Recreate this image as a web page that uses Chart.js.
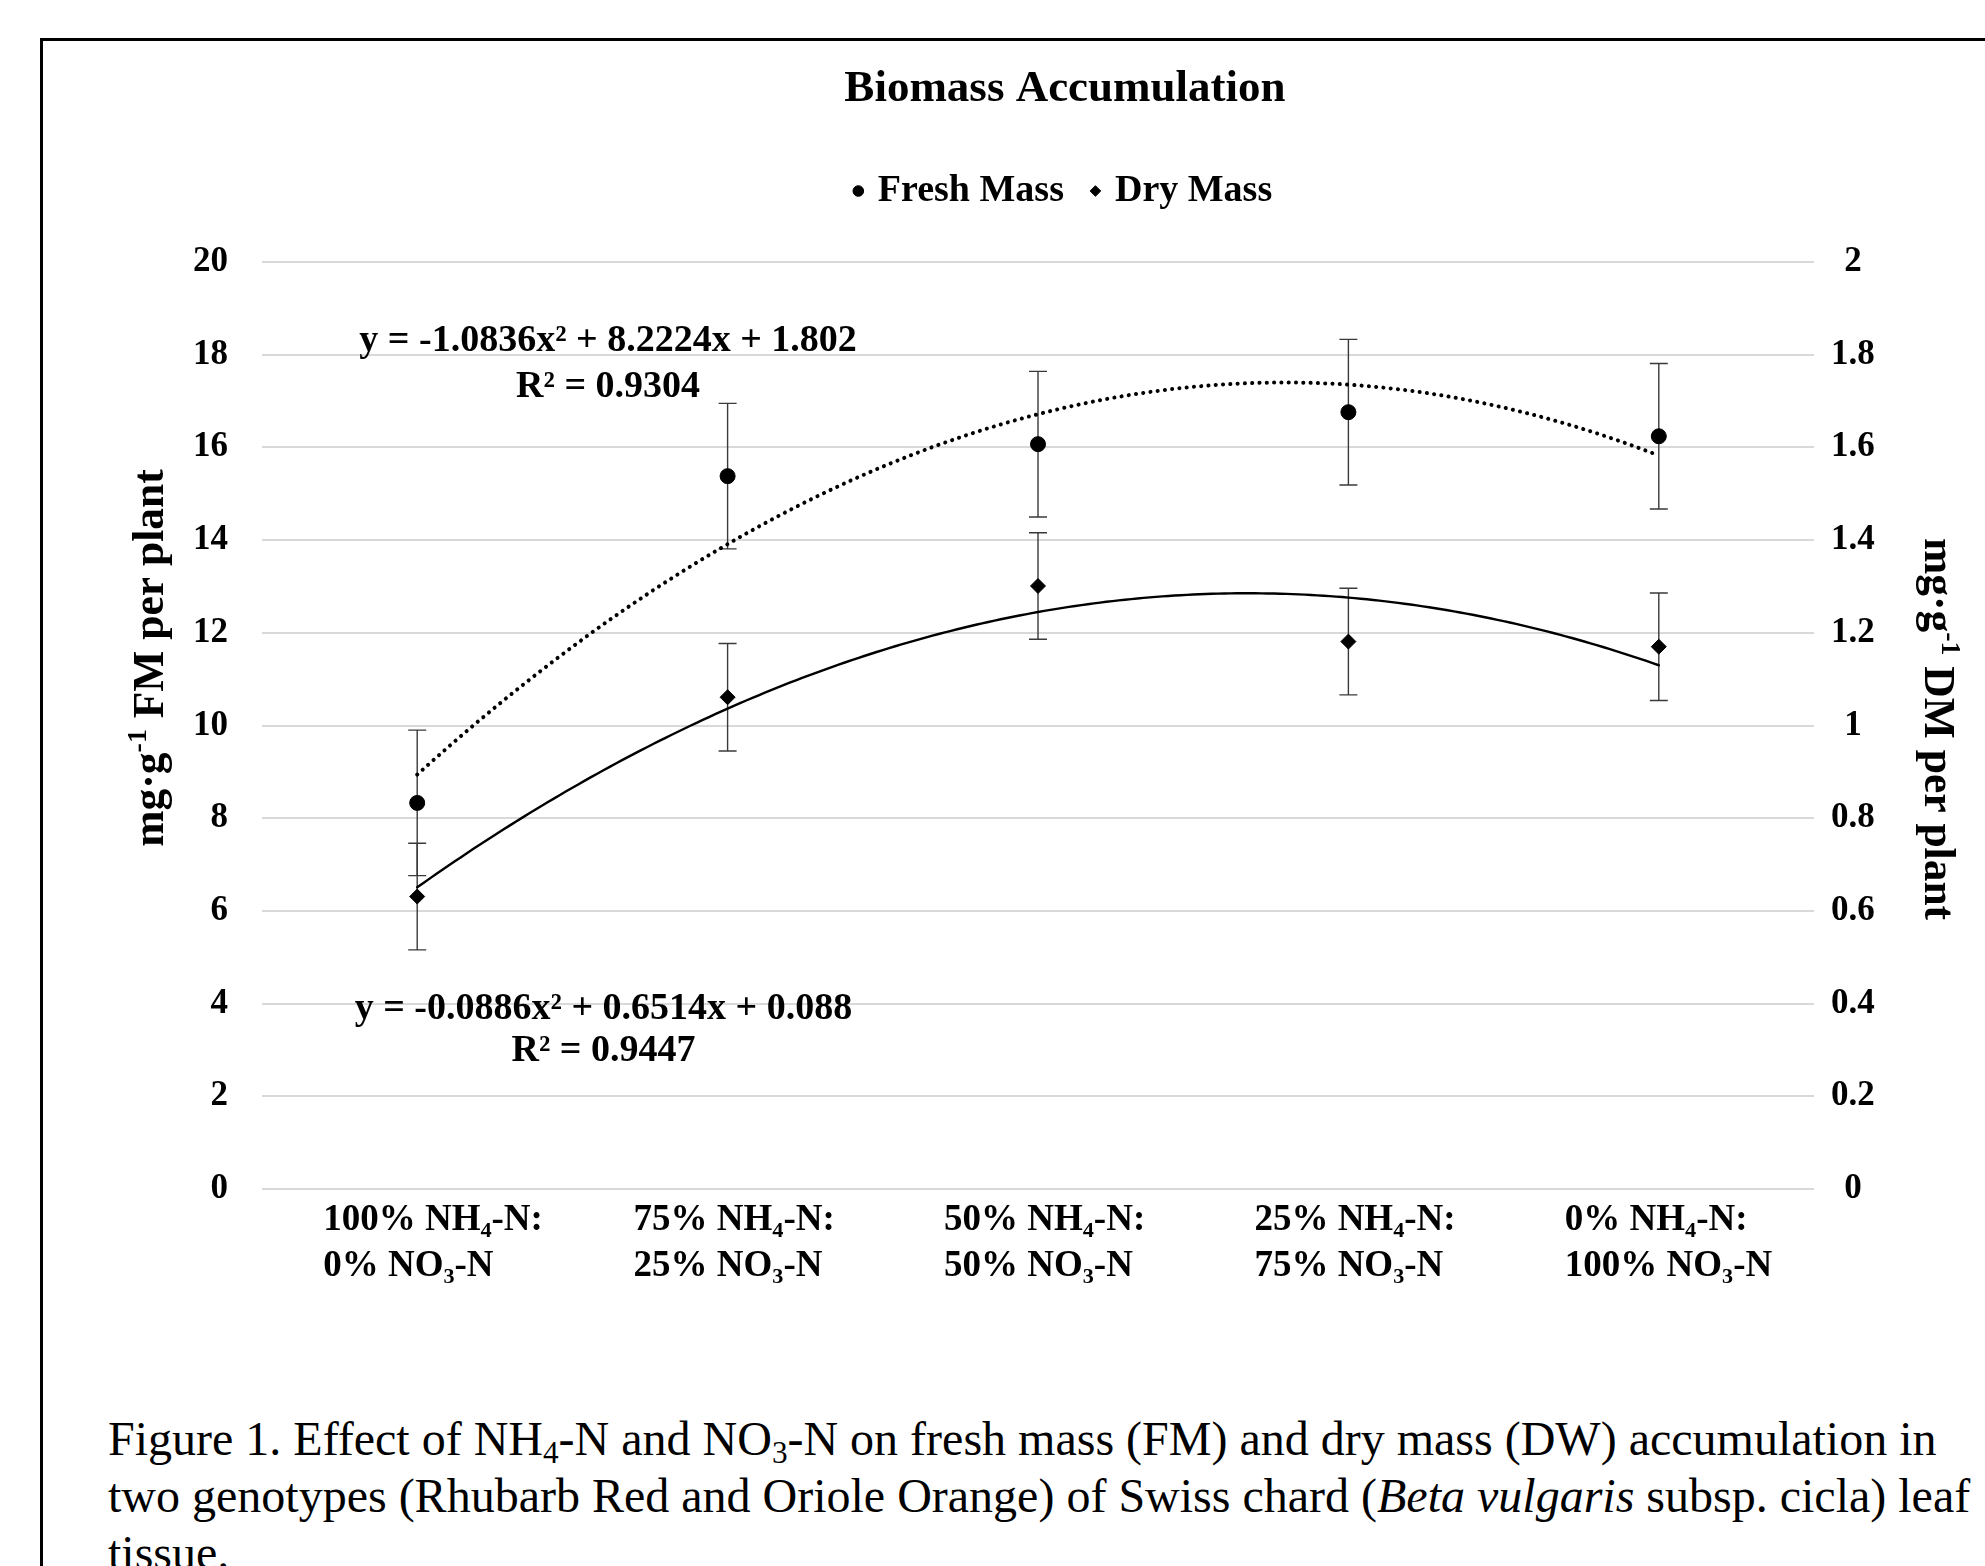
<!DOCTYPE html>
<html>
<head>
<meta charset="utf-8">
<title>Biomass Accumulation</title>
<script src="https://cdn.jsdelivr.net/npm/chart.js@4.4.1/dist/chart.umd.min.js"></script>
<style>
  html, body { margin: 0; padding: 0; background: #fff; width: 1985px; height: 1566px; overflow: hidden; }
  #frame { position: absolute; left: 40px; top: 38px; width: 3000px; height: 3000px;
           border-top: 3px solid #000; border-left: 3px solid #000; }
  #chart { position: absolute; left: 0; top: 0; }
  #caption { position: absolute; left: 108px; top: 1410px; color: #000; white-space: nowrap;
             font-family: "Liberation Serif", "Times New Roman", serif; font-size: 48px; line-height: 57px; }
  #caption sub { font-size: 0.65em; line-height: 0; vertical-align: -0.25em; }
</style>
</head>
<body>
<div id="frame"></div>
<canvas id="chart" width="2130" height="1330"></canvas>
<div id="caption">Figure 1. Effect of NH<sub>4</sub>-N and NO<sub>3</sub>-N on fresh mass (FM) and dry mass (DW) accumulation in<br>two genotypes (Rhubarb Red and Oriole Orange) of Swiss chard (<i>Beta vulgaris</i> subsp. cicla) leaf<br>tissue.</div>
<script>
const SERIF = '"Liberation Serif", "Times New Roman", "DejaVu Serif", serif';

// data
const categories = [
  ['100% NH₄-N:', '0% NO₃-N'],
  ['75% NH₄-N:', '25% NO₃-N'],
  ['50% NH₄-N:', '50% NO₃-N'],
  ['25% NH₄-N:', '75% NO₃-N'],
  ['0% NH₄-N:', '100% NO₃-N']
];
const freshMass = [8.33, 15.38, 16.07, 16.76, 16.24];
const freshErr = [1.57, 1.57, 1.57, 1.57, 1.57];
const dryMass = [0.631, 1.061, 1.301, 1.181, 1.170];
const dryErr = [0.115, 0.116, 0.115, 0.115, 0.116];

// polynomial trendlines printed on the chart, y = a*x^2 + b*x + c with x = 1..5
const freshFit = [-1.0836, 8.2224, 1.802];
const dryFit = [-0.0886, 0.6514, 0.088];
const freshR2 = '0.9304';
const dryR2 = '0.9447';

const freshAxis = [0, 20, 2];   // min, max, step
const dryAxis = [0, 2, 0.2];

function fitLabel(c) {
  const sign = v => (v < 0 ? '- ' : '+ ') + Math.abs(v);
  return 'y = ' + c[0] + 'x² ' + sign(c[1]) + 'x ' + sign(c[2]);
}

const errorBars = {
  id: 'errorBars',
  beforeDatasetsDraw(chart) {
    const ctx = chart.ctx;
    const x = chart.scales.x;
    ctx.save();
    ctx.strokeStyle = '#3a3a3a';
    ctx.lineWidth = 1.4;
    [[freshMass, freshErr, 'y'], [dryMass, dryErr, 'y1']].forEach(([vals, errs, axis]) => {
      const y = chart.scales[axis];
      vals.forEach((v, i) => {
        const px = x.getPixelForValue(i);
        const top = y.getPixelForValue(v + errs[i]);
        const bot = y.getPixelForValue(v - errs[i]);
        ctx.beginPath();
        ctx.moveTo(px, top); ctx.lineTo(px, bot);
        ctx.moveTo(px - 9, top); ctx.lineTo(px + 9, top);
        ctx.moveTo(px - 9, bot); ctx.lineTo(px + 9, bot);
        ctx.stroke();
      });
    });
    ctx.restore();
  }
};

const trendlines = {
  id: 'trendlines',
  beforeDatasetsDraw(chart) {
    const ctx = chart.ctx;
    const x = chart.scales.x;
    const curves = [
      { coef: freshFit, axis: 'y', dash: [0.1, 7.2], width: 4 },
      { coef: dryFit, axis: 'y1', dash: [], width: 2.4 }
    ];
    curves.forEach(c => {
      const y = chart.scales[c.axis];
      ctx.save();
      ctx.strokeStyle = '#000';
      ctx.lineWidth = c.width;
      ctx.lineCap = 'round';
      ctx.setLineDash(c.dash);
      ctx.beginPath();
      for (let n = 0; n <= 200; n++) {
        const t = 1 + n / 50;
        const v = c.coef[0] * t * t + c.coef[1] * t + c.coef[2];
        const px = x.getPixelForValue(t - 1);
        const py = y.getPixelForValue(v);
        if (n === 0) ctx.moveTo(px, py); else ctx.lineTo(px, py);
      }
      ctx.stroke();
      ctx.restore();
    });
  }
};

const equations = {
  id: 'equations',
  afterDatasetsDraw(chart) {
    const ctx = chart.ctx;
    const x = chart.scales.x;
    const y = chart.scales.y;
    ctx.save();
    ctx.fillStyle = '#000';
    ctx.font = 'bold 38px ' + SERIF;
    ctx.textAlign = 'center';
    ctx.textBaseline = 'middle';
    ctx.fillText(fitLabel(freshFit), x.getPixelForValue(0.615), y.getPixelForValue(18.3));
    ctx.fillText('R² = ' + freshR2, x.getPixelForValue(0.615), y.getPixelForValue(17.3));
    ctx.fillText(fitLabel(dryFit), x.getPixelForValue(0.6), y.getPixelForValue(3.88));
    ctx.fillText('R² = ' + dryR2, x.getPixelForValue(0.6), y.getPixelForValue(2.98));
    ctx.restore();
  }
};

// axis titles with a real superscript
function drawAxisTitle(ctx, cx, cy, angle, before, sup, after) {
  const big = 'bold 43.5px ' + SERIF;
  const small = 'bold 28px ' + SERIF;
  ctx.save();
  ctx.translate(cx, cy);
  ctx.rotate(angle);
  ctx.fillStyle = '#000';
  ctx.textBaseline = 'alphabetic';
  ctx.textAlign = 'left';
  ctx.font = big;
  const w1 = ctx.measureText(before).width;
  const w3 = ctx.measureText(after).width;
  ctx.font = small;
  const w2 = ctx.measureText(sup).width;
  let px = -(w1 + w2 + w3) / 2;
  const base = 14;
  ctx.font = big;
  ctx.fillText(before, px, base); px += w1;
  ctx.font = small;
  ctx.fillText(sup, px, base - 17); px += w2;
  ctx.font = big;
  ctx.fillText(after, px, base);
  ctx.restore();
}

const axisTitles = {
  id: 'axisTitles',
  afterDraw(chart) {
    const a = chart.chartArea;
    drawAxisTitle(chart.ctx, a.left - 113, a.top + 396, -Math.PI / 2, 'mg·g', '-1', ' FM per plant');
    drawAxisTitle(chart.ctx, a.right + 125, a.top + 467, Math.PI / 2, 'mg·g', '-1', ' DM per plant');
  }
};

const tickFont = { family: SERIF, size: 35, weight: 'bold' };

new Chart(document.getElementById('chart'), {
  type: 'line',
  data: {
    labels: categories,
    datasets: [
      {
        label: 'Fresh Mass',
        data: freshMass,
        yAxisID: 'y',
        showLine: false,
        pointStyle: 'circle',
        pointRadius: 7.5,
        pointBackgroundColor: '#000',
        pointBorderColor: '#000',
        backgroundColor: '#000',
        borderColor: '#000'
      },
      {
        label: 'Dry Mass',
        data: dryMass,
        yAxisID: 'y1',
        showLine: false,
        pointStyle: 'rectRot',
        pointRadius: 7.5,
        pointBackgroundColor: '#000',
        pointBorderColor: '#000',
        backgroundColor: '#000',
        borderColor: '#000'
      }
    ]
  },
  options: {
    responsive: false,
    animation: false,
    layout: { padding: 0 },
    plugins: {
      title: {
        display: true,
        text: 'Biomass Accumulation',
        color: '#000',
        font: { family: SERIF, size: 45, weight: 'bold' },
        padding: { top: 62, bottom: 25 }
      },
      legend: {
        weight: 1600,
        labels: {
          usePointStyle: true,
          boxWidth: 1,
          boxHeight: 7.5,
          padding: 31,
          color: '#000',
          font: { family: SERIF, size: 38, weight: 'bold' }
        }
      },
      // empty subtitle used only as the gap between legend and plot
      subtitle: {
        display: true,
        weight: 1000,
        text: ' ',
        font: { size: 1 },
        padding: { top: 0, bottom: 40.8 }
      },
      tooltip: { enabled: false }
    },
    scales: {
      x: {
        offset: true,
        grid: { display: false },
        border: { display: false },
        ticks: {
          color: '#000',
          font: { family: SERIF, size: 37, weight: 'bold', lineHeight: 1.25 },
          align: 'start',
          labelOffset: -94,
          padding: 0,
          maxRotation: 0,
          autoSkip: false
        },
        afterFit(s) { s.height = 141; }
      },
      y: {
        position: 'left',
        min: freshAxis[0],
        max: freshAxis[1],
        ticks: { stepSize: freshAxis[2], color: '#000', font: tickFont, padding: 34 },
        grid: { color: '#d9d9d9', lineWidth: 2, drawTicks: false },
        border: { display: false },
        afterFit(s) { s.width = 262; }
      },
      y1: {
        position: 'right',
        min: dryAxis[0],
        max: dryAxis[1],
        ticks: {
          stepSize: dryAxis[2],
          color: '#000',
          font: tickFont,
          crossAlign: 'center',
          padding: 17,
          callback: v => String(Math.round(v * 10) / 10)
        },
        grid: { display: false, drawTicks: false },
        border: { display: false },
        afterFit(s) { s.width = 316; }
      }
    }
  },
  plugins: [errorBars, trendlines, equations, axisTitles]
});
</script>
</body>
</html>
